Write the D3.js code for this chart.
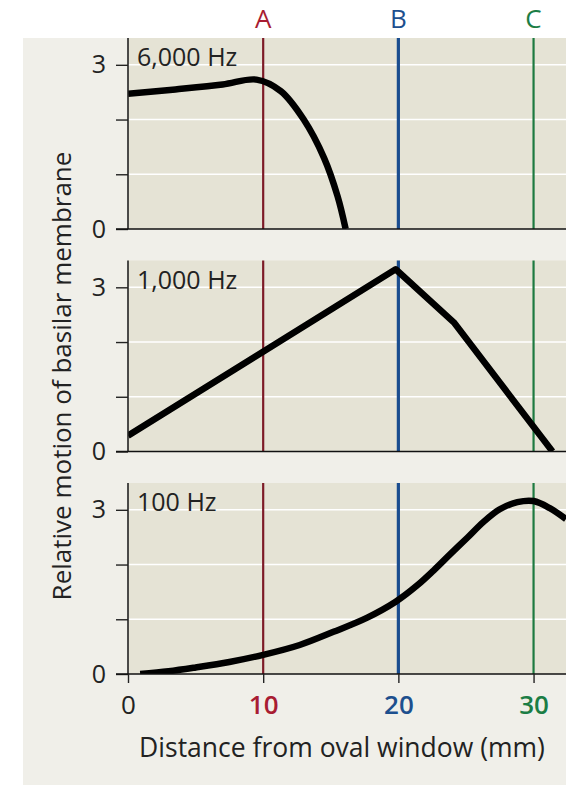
<!DOCTYPE html>
<html>
<head>
<meta charset="utf-8">
<script src="https://cdn.jsdelivr.net/npm/d3@7"></script>
<style>
  body { margin: 0; background: #ffffff; }
  text { font-family: "Open Sans", "Noto Sans", sans-serif; }
</style>
</head>
<body>
<script>
// basilar membrane response, three stimulus frequencies

var panelLabels = ["6,000 Hz", "1,000 Hz", "100 Hz"];

// [distance mm, relative motion]
var hz6000 = [[0, 2.47], [3.5, 2.55], [7, 2.64], [9.5, 2.73], [11.3, 2.52],
  [13, 2.0], [14.5, 1.3], [15.5, 0.6], [16.1, 0]];
var hz1000 = [[0, 0.29], [19.8, 3.33], [24.1, 2.36], [31.4, 0]];
var hz100 = [[0.9, 0], [3, 0.05], [5, 0.12], [7.5, 0.22], [10, 0.35], [12.7, 0.53],
  [15.2, 0.77], [17.7, 1.03], [19.8, 1.32], [21.4, 1.62], [22.6, 1.89], [23.8, 2.18],
  [25.1, 2.49], [26.3, 2.78], [27.5, 3.01], [28.8, 3.14], [30, 3.16], [31.2, 3.03],
  [32.4, 2.83]];
var panelSeries = [hz6000, hz1000, hz100];

var markerLetters = ["A", "B", "C"];
var markerDistances = [10, 20, 30];
var markerColors = ["#7d1b27", "#1a4d8f", "#1d7a40"];
var letterColors = ["#a81c32", "#1d4f8e", "#1b7d45"];

var xTicks = [0, 10, 20, 30];
var xTickColors = ["#222222", "#a81c32", "#1d4f8e", "#1b7d45"];
var yTicks = [0, 1, 2, 3];
var yTickLabels = { 0: "0", 3: "3" };

var svgWidth = 566;
var svgHeight = 785;

var svg = d3.select("body")
  .append("svg")
  .attr("width", svgWidth)
  .attr("height", svgHeight);

// page backgrounds
svg.append("rect")
  .attr("width", svgWidth)
  .attr("height", svgHeight)
  .attr("fill", "#ffffff");

svg.append("rect")
  .attr("x", 23)
  .attr("y", 38)
  .attr("width", svgWidth - 23)
  .attr("height", svgHeight - 38)
  .attr("fill", "#f0efe9");

// shared scales
var xScale = d3.scaleLinear().domain([0, 32.4]).range([128, 566]);
var panelHeight = 191;
var panelTops = [38, 260.5, 483];
var yScale = d3.scaleLinear().domain([0, 3.49]).range([panelHeight, 0]);

var curveTypes = [d3.curveCatmullRom.alpha(0.5), d3.curveLinear, d3.curveCatmullRom.alpha(0.5)];

panelSeries.forEach(function(series, i) {
  var panel = svg.append("g")
    .attr("transform", `translate(0, ${panelTops[i]})`);

  // tan plot area
  panel.append("rect")
    .attr("x", xScale(0))
    .attr("y", 0)
    .attr("width", svgWidth - xScale(0))
    .attr("height", panelHeight)
    .attr("fill", "#e5e3d5");

  // white gridlines
  panel.selectAll(".grid")
    .data(yTicks.filter(d => d > 0))
    .enter()
    .append("line")
    .attr("x1", xScale(0))
    .attr("x2", svgWidth)
    .attr("y1", d => yScale(d))
    .attr("y2", d => yScale(d))
    .attr("stroke", "#ffffff")
    .attr("stroke-width", 1.5);

  // marker lines A, B, C
  panel.selectAll(".marker")
    .data(markerDistances)
    .enter()
    .append("line")
    .attr("x1", d => xScale(d))
    .attr("x2", d => xScale(d))
    .attr("y1", 0)
    .attr("y2", yScale(0))
    .attr("stroke", (d, j) => markerColors[j])
    .attr("stroke-width", (d, j) => j === 1 ? 3.2 : 2.2);

  // clip for the curve
  panel.append("clipPath")
    .attr("id", "clip" + i)
    .append("rect")
    .attr("x", xScale(0))
    .attr("y", 0)
    .attr("width", svgWidth - xScale(0))
    .attr("height", panelHeight);

  var line = d3.line()
    .x(d => xScale(d[0]))
    .y(d => yScale(d[1]))
    .curve(curveTypes[i]);

  panel.append("path")
    .datum(series)
    .attr("d", line)
    .attr("clip-path", `url(#clip${i})`)
    .attr("fill", "none")
    .attr("stroke", "#000000")
    .attr("stroke-width", 6.5)
    .attr("stroke-linejoin", "round");

  // y axis
  var leftAxis = d3.axisLeft(yScale)
    .tickValues(yTicks)
    .tickSize(12)
    .tickPadding(10)
    .tickFormat(d => yTickLabels[d] || "");

  var yAxisGroup = panel.append("g")
    .attr("transform", `translate(${xScale(0)}, 0)`)
    .call(leftAxis);

  yAxisGroup.select(".domain").remove();
  yAxisGroup.selectAll("line").attr("stroke", "#222222").attr("stroke-width", 1.4);
  yAxisGroup.selectAll("text")
    .attr("fill", "#222222")
    .style("font-size", "25px")
    .style("font-family", "'Open Sans', sans-serif");

  // vertical axis line and zero baseline
  panel.append("line")
    .attr("x1", xScale(0))
    .attr("x2", xScale(0))
    .attr("y1", 0)
    .attr("y2", yScale(0))
    .attr("stroke", "#222222")
    .attr("stroke-width", 1.6);

  panel.append("line")
    .attr("x1", xScale(0) - 12)
    .attr("x2", svgWidth)
    .attr("y1", yScale(0))
    .attr("y2", yScale(0))
    .attr("stroke", "#111111")
    .attr("stroke-width", 1.6);

  // frequency label
  panel.append("text")
    .attr("x", xScale(0) + 9)
    .attr("y", 28)
    .attr("fill", "#222222")
    .style("font-size", "25px")
    .text(panelLabels[i]);

  // x axis only under the last panel
  if (i === panelSeries.length - 1) {
    var bottomAxis = d3.axisBottom(xScale)
      .tickValues(xTicks)
      .tickSize(9)
      .tickPadding(13)
      .tickFormat(d3.format("d"));

    var xAxisGroup = panel.append("g")
      .attr("transform", `translate(0, ${yScale(0)})`)
      .call(bottomAxis);

    xAxisGroup.select(".domain").remove();
    xAxisGroup.selectAll("line").attr("stroke", "#222222").attr("stroke-width", 1.4);
    xAxisGroup.selectAll("text")
      .attr("fill", (d, j) => xTickColors[j])
      .style("font-weight", (d, j) => j === 0 ? 400 : 600)
      .style("font-size", "26px")
      .style("font-family", "'Open Sans', sans-serif");
  }
});

// letters above marker lines
svg.selectAll(".letter")
  .data(markerDistances)
  .enter()
  .append("text")
  .attr("x", d => xScale(d))
  .attr("y", 28)
  .attr("text-anchor", "middle")
  .attr("fill", (d, j) => letterColors[j])
  .style("font-size", "26px")
  .text((d, j) => markerLetters[j]);

// axis titles
svg.append("text")
  .attr("x", 342)
  .attr("y", 757)
  .attr("text-anchor", "middle")
  .attr("fill", "#222222")
  .style("font-size", "26.5px")
  .text("Distance from oval window (mm)");

svg.append("text")
  .attr("transform", "translate(71, 376) rotate(-90)")
  .attr("text-anchor", "middle")
  .attr("fill", "#222222")
  .style("font-size", "26px")
  .text("Relative motion of basilar membrane");
</script>
</body>
</html>
